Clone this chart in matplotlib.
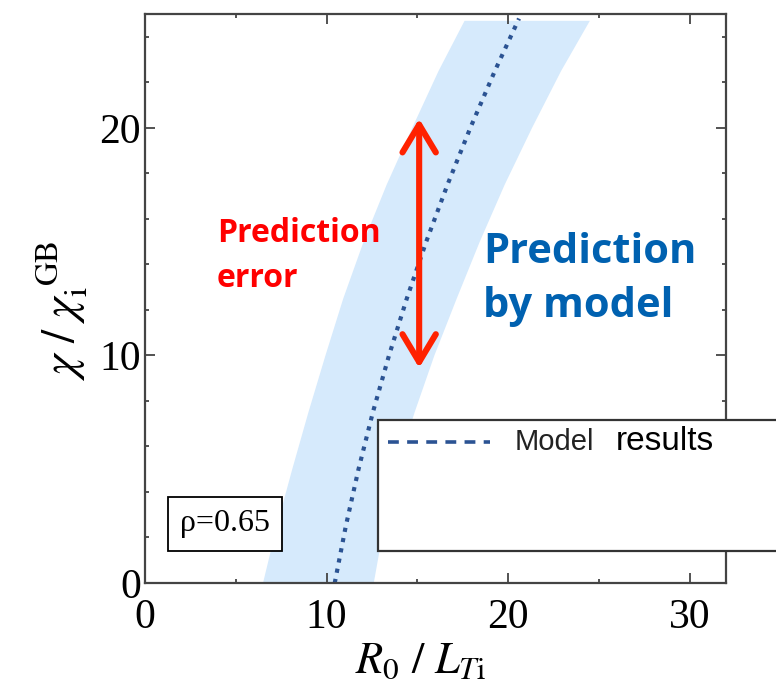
import matplotlib
matplotlib.use('Agg')
import matplotlib.pyplot as plt
from matplotlib.patches import Rectangle
from matplotlib.lines import Line2D
from matplotlib.ticker import MultipleLocator

# model curve (dotted line)
model_y = [0.0, 2.5, 5.0, 7.5, 10.0, 12.5, 15.0, 17.5, 20.0, 22.5, 24.8]
model_x = [10.45, 11.06, 11.76, 12.55, 13.44, 14.42, 15.49, 16.66, 17.92,
           19.27, 20.6]

# shaded prediction band, left and right edges
band_y = [0.0, 2.5, 5.0, 7.5, 10.0, 12.5, 15.0, 17.5, 20.0, 22.5, 24.7]
band_left_x = [6.5, 7.26, 8.11, 9.0, 9.94, 10.92, 12.04, 13.31, 14.72,
               16.17, 17.6]
band_right_x = [12.6, 13.16, 13.86, 14.85, 15.94, 17.17, 18.44, 19.81, 21.32,
                22.92, 24.5]

# prediction error arrow (x, y_low, y_high)
err_x = 15.1
err_lo, err_hi = 9.45, 20.4

xticks = [0, 10, 20, 30]
yticks = [0, 10, 20]
rho_text = 'ρ=0.65'

W, H = 776, 685
plt.rcParams['font.family'] = ['Liberation Serif', 'DejaVu Serif']
plt.rcParams['mathtext.fontset'] = 'stix'


def fx(x):
    return x / W


def fy(y):
    return 1 - y / H


fig = plt.figure(figsize=(W / 100, H / 100), dpi=100)
ax = fig.add_axes([fx(145), fy(583), fx(726) - fx(145), fy(14) - fy(583)])

poly_x = band_left_x + band_right_x[::-1]
poly_y = band_y + band_y[::-1]
ax.fill(poly_x, poly_y, color='#d6eafc', lw=0, zorder=1)
ax.plot(model_x, model_y, color='#2b5393', lw=3.0,
        linestyle=(0, (1.0, 1.5)), zorder=2)

ax.annotate('', xy=(err_x, err_hi), xytext=(err_x, err_lo),
            arrowprops=dict(arrowstyle='<->,head_length=1.0,head_width=0.6',
                            mutation_scale=20, lw=4.4, color='#ff2200',
                            shrinkA=0, shrinkB=0, capstyle='round',
                            joinstyle='round'), zorder=3)

ax.set_xlim(0, 32)
ax.set_ylim(0, 25)
ax.set_xticks(xticks)
ax.set_yticks(yticks)
ax.xaxis.set_minor_locator(MultipleLocator(5))
ax.yaxis.set_minor_locator(MultipleLocator(2))
ax.tick_params(which='both', direction='in', top=True, right=True,
               color='#444444', width=1.3)
ax.tick_params(which='major', length=7, labelsize=30)
ax.tick_params(which='minor', length=3)
ax.tick_params(axis='x', pad=11)
ax.tick_params(axis='y', pad=3)
for s in ax.spines.values():
    s.set_color('#444444')
    s.set_linewidth(1.6)

# axis labels
fig.text(fx(420), fy(673), r'$R_0\ /\ L_{T\mathrm{i}}$', fontsize=32,
         ha='center', va='baseline')
fig.text(fx(62), fy(311), r'$\chi\ /\ \chi_{\mathrm{i}}^{\ \mathrm{GB}}$',
         fontsize=34, rotation=90, ha='center', va='center')

# rho box
fig.text(fx(225), fy(524), rho_text, fontsize=23, ha='center', va='center',
         bbox=dict(boxstyle='square,pad=0.38', fc='white', ec='black', lw=1.3))

# annotations
fig.text(fx(217), fy(242), 'Prediction', family='Open Sans', weight='bold',
         fontsize=23, color='#ff0000', va='baseline')
fig.text(fx(217), fy(287), 'error', family='Open Sans', weight='bold',
         fontsize=23, color='#ff0000', va='baseline')
fig.text(fx(483), fy(263), 'Prediction', family='Open Sans', weight='bold',
         fontsize=30, color='#0061b0', va='baseline')
fig.text(fx(483), fy(317), 'by model', family='Open Sans', weight='bold',
         fontsize=30, color='#0061b0', va='baseline')

# legend box
leg = Rectangle((fx(378), fy(551)), fx(800) - fx(378), fy(420) - fy(551),
                transform=fig.transFigure, fc='white', ec='#333333', lw=1.6,
                zorder=5)
fig.add_artist(leg)
fig.add_artist(Line2D([fx(388), fx(490)], [fy(442), fy(442)],
                      transform=fig.transFigure, color='#2b5393', lw=2.6,
                      linestyle=(0, (3.0, 2.3)), zorder=6))
fig.text(fx(515), fy(442), 'Model', family='Liberation Sans', fontsize=21,
         color='#222222', va='center', zorder=7)
fig.text(fx(616), fy(442), 'results', family='Liberation Sans', fontsize=24,
         color='black', va='center', zorder=7)

fig.savefig('out.png', dpi=100)
